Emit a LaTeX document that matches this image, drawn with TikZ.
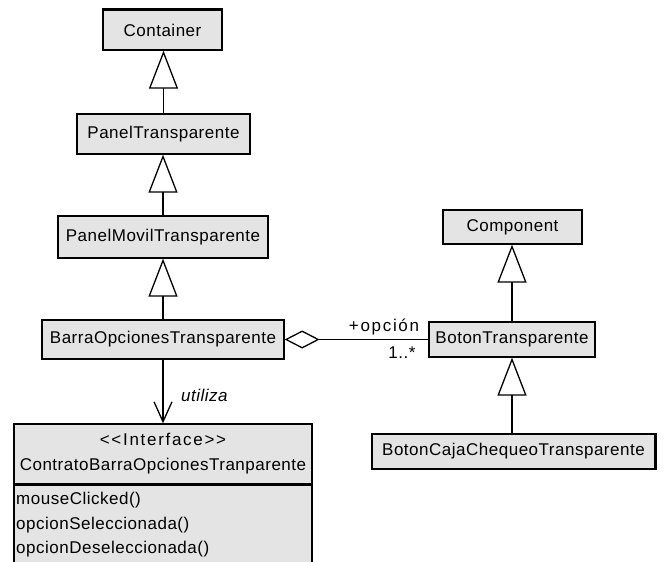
\documentclass[tikz,border=0pt]{standalone}
\usepackage{fontspec}
\setmainfont[LetterSpace=3]{Liberation Sans}
\newfontfamily\spaced[LetterSpace=10]{Liberation Sans}
\usetikzlibrary{arrows.meta}
\definecolor{boxgray}{RGB}{228,228,228}
\begin{document}
\begin{tikzpicture}[x=1pt,y=-1pt,
  txt/.style={font=\fontsize{17}{25}\selectfont, inner sep=0pt},
  cls/.style={txt, draw=black, fill=boxgray, line width=1.3pt},
  gen/.style={line width=1.3pt, -{Triangle[open,length=38pt,width=29pt,line width=1.3pt]}},
  uses/.style={line width=1.3pt, -{Straight Barb[length=20pt,width=18pt,line width=1.3pt]}},
  aggr/.style={line width=1.3pt, -{Diamond[open,length=35pt,width=18pt,line width=1.3pt]}}]
\useasboundingbox (0,0) rectangle (664,562);
\clip (0,0) rectangle (664,562);
\fill[white] (0,0) rectangle (664,562);

% left column
\node[cls, minimum width=119pt, minimum height=40pt] (container) at (162.5,30) {Container};
\node[cls, minimum width=173pt, minimum height=40pt] (panel) at (163.5,134) {PanelTransparente};
\node[cls, minimum width=210pt, minimum height=42pt] (movil) at (163,237) {PanelMovilTransparente};
\node[cls, minimum width=242pt, minimum height=39pt] (barra) at (163,339.5) {BarraOpcionesTransparente};

% interface
\node[cls, minimum width=298pt, minimum height=60pt, align=center] (ihead) at (163,454)
  {{\spaced <<Interface>>}\\ContratoBarraOpcionesTranparente};
\node[cls, minimum width=298pt, minimum height=116pt, anchor=north] (ibody) at (ihead.south) {};
\node[txt, anchor=west] (m1) at (16,500) {mouseClicked()};
\node[txt, anchor=west] (m2) at (16,525) {opcionSeleccionada()};
\node[txt, anchor=west] (m3) at (16,549) {opcionDeseleccionada()};

% right column
\node[cls, minimum width=139pt, minimum height=34pt] (comp) at (512.5,227) {Component};
\node[cls, minimum width=166pt, minimum height=35pt] (bt) at (512,339.5) {BotonTransparente};
\node[cls, minimum width=283pt, minimum height=35pt] (bcaja) at (513.5,451.5) {BotonCajaChequeoTransparente};

% shadow-like heavy edges
\draw[line width=3pt] (container.north west) -- (container.north east);
\draw[line width=3pt] (bcaja.north east) -- (bcaja.south east);

% generalizations
\draw[gen] (panel.north) -- (panel.north |- container.south);
\draw[gen] (movil.north) -- (movil.north |- panel.south);
\draw[gen] (barra.north) -- (barra.north |- movil.south);
\draw[gen] (bt.north) -- (bt.north |- comp.south);
\draw[gen] (bt.south |- bcaja.north) -- (bt.south);

% dependency
\draw[uses] (barra.south) -- (ihead.north);
\node[txt, font=\fontsize{17}{20}\selectfont\itshape, anchor=west] (util) at (181,395) {utiliza};

% aggregation
\draw[aggr] (bt.west) -- (barra.east);
\node[txt] (role) at (384,327) {\spaced +opción};
\node[txt] (mult) at (402,353) {1..*};
\end{tikzpicture}
\end{document}
